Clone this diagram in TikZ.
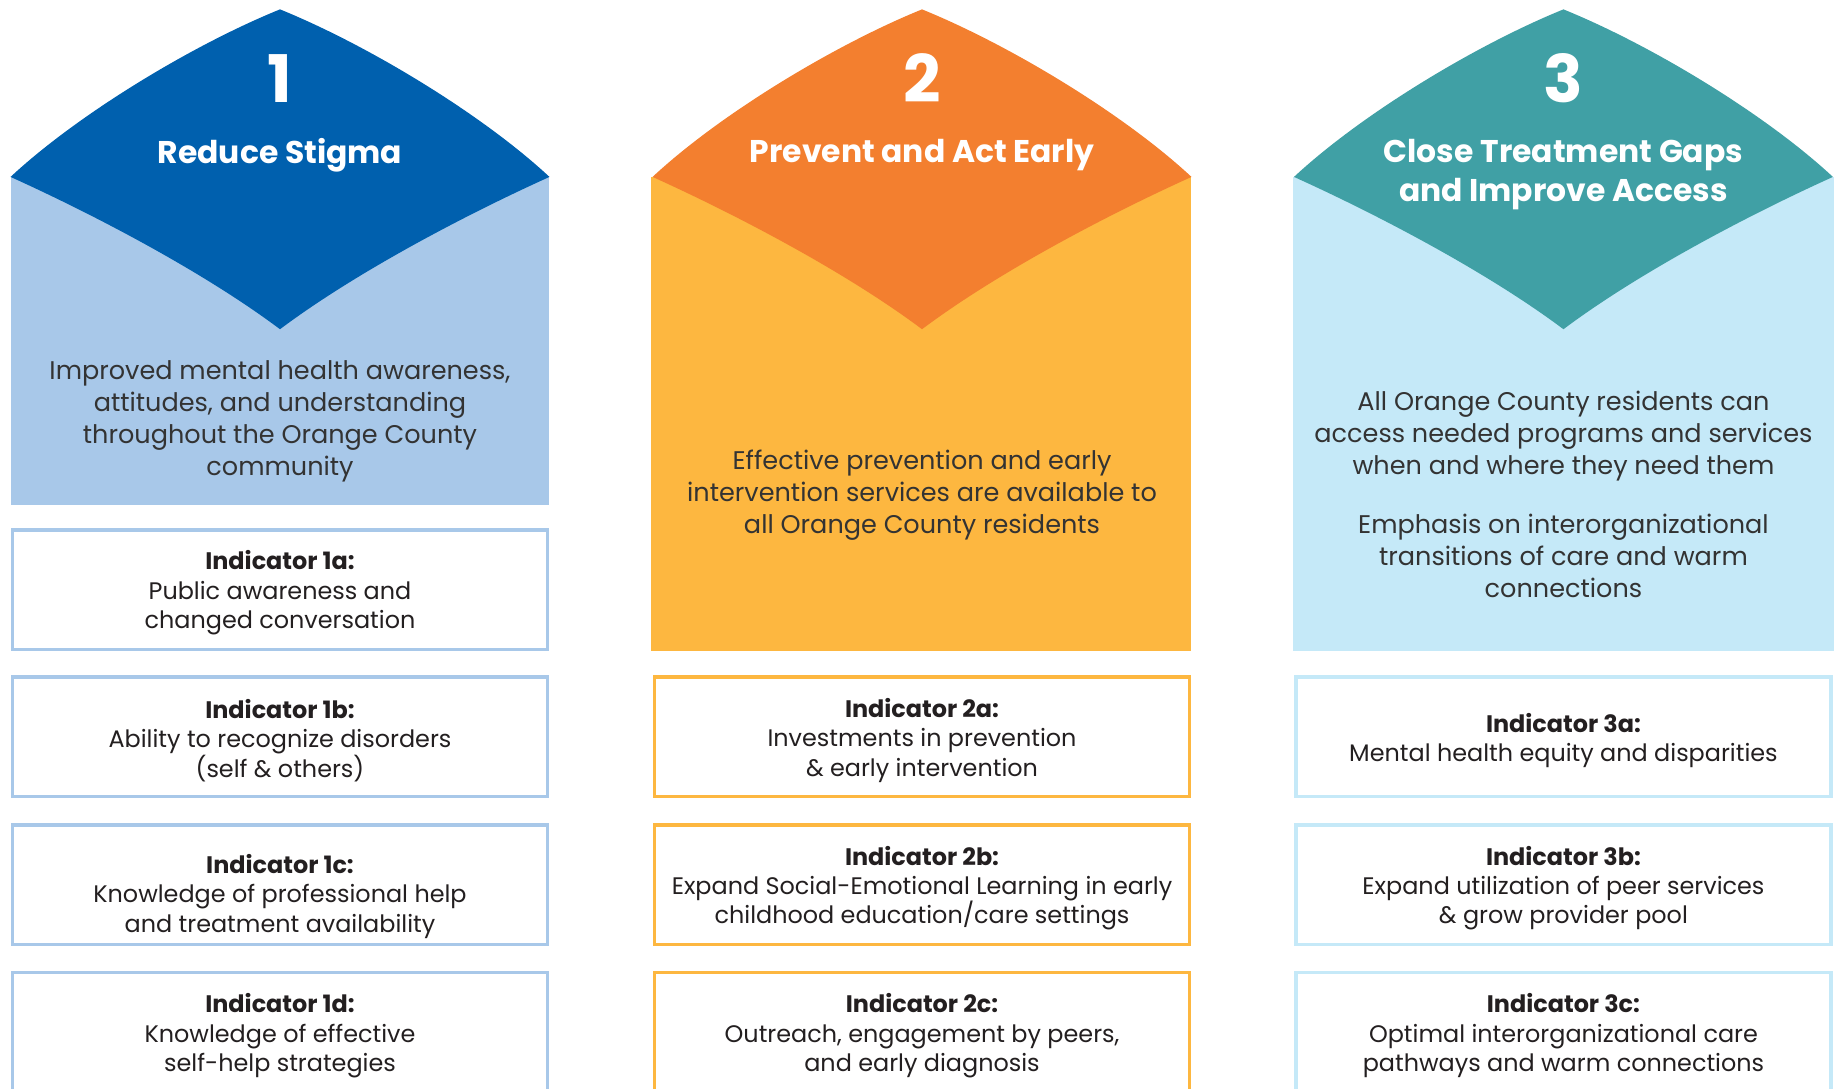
\documentclass[tikz,border=0pt]{standalone}
\usepackage{fontspec}
\setmainfont{Poppins}
\definecolor{darkA}{HTML}{0060AE}
\definecolor{lightA}{HTML}{A8C8E9}
\definecolor{darkB}{HTML}{F37F2F}
\definecolor{lightB}{HTML}{FDB740}
\definecolor{darkC}{HTML}{40A0A5}
\definecolor{lightC}{HTML}{C5E9F8}
\definecolor{txtgray}{HTML}{333333}
\definecolor{txtdark}{HTML}{231F20}
\tikzset{
  numtxt/.style={text=white, font=\fontsize{56}{60}\selectfont\bfseries, inner sep=0pt},
  titletxt/.style={text=white, font=\fontsize{26.8}{33}\selectfont\bfseries, align=center, inner sep=0pt},
  desctxt/.style={text=txtgray, font=\fontsize{21.8}{27.3}\selectfont, align=center, inner sep=0pt},
  indtxt/.style={text=txtdark, font=\fontsize{20.4}{25}\selectfont, align=center, inner sep=0pt},
  ibox/.style={draw=#1, line width=3pt, fill=white, minimum width=457pt, minimum height=102pt, inner sep=0pt},
}
\newcommand{\myflap}[2]{% center x, colour
  \fill[#2] (#1-230,151) .. controls (#1-172,97) and (#1-74,38) .. (#1,8)
    .. controls (#1+74,38) and (#1+172,97) .. (#1+230,151)
    .. controls (#1+157,184) and (#1+64,233) .. (#1,281)
    .. controls (#1-64,233) and (#1-157,184) .. cycle;}
\begin{document}
\begin{tikzpicture}[x=1pt,y=-1pt]
\useasboundingbox (0,0) rectangle (1568,929.5);
% column 1
\fill[lightA] (9,151) rectangle (469,431);
\myflap{239}{darkA}
\node[numtxt] (n1) at (239,67) {1};
\node[titletxt] (t1) at (239,132.5) {Reduce Stigma};
\node[desctxt] (d1) at (239,360) {Improved mental health awareness,\\attitudes, and understanding\\throughout the Orange County\\community};
\node[ibox=lightA] (b1a) at (239,503.5) {};
\node[ibox=lightA] (b1b) at (239,629) {};
\node[ibox=lightA] (b1c) at (239,755) {};
\node[ibox=lightA] (b1d) at (239,881) {};
\node[indtxt] (i1a) at (239,506) {\textbf{Indicator 1a:}\\Public awareness and\\changed conversation};
\node[indtxt] (i1b) at (239,632) {\textbf{Indicator 1b:}\\Ability to recognize disorders\\(self \& others)};
\node[indtxt] (i1c) at (239,765) {\textbf{Indicator 1c:}\\Knowledge of professional help\\and treatment availability};
\node[indtxt] (i1d) at (239,884) {\textbf{Indicator 1d:}\\Knowledge of effective\\self-help strategies};
% column 2
\fill[lightB] (556,151) rectangle (1017,556);
\myflap{787}{darkB}
\node[numtxt] (n2) at (787,67) {2};
\node[titletxt] (t2) at (787,132.5) {Prevent and Act Early};
\node[desctxt] (d2) at (787,422.5) {Effective prevention and early\\intervention services are available to\\all Orange County residents};
\node[ibox=lightB] (b2a) at (787,629) {};
\node[ibox=lightB] (b2b) at (787,755) {};
\node[ibox=lightB] (b2c) at (787,881) {};
\node[indtxt] (i2a) at (787,632) {\textbf{Indicator 2a:}\\Investments in prevention\\\& early intervention};
\node[indtxt] (i2b) at (787,758) {\textbf{Indicator 2b:}\\Expand Social-Emotional Learning in early\\childhood education/care settings};
\node[indtxt] (i2c) at (787,884) {\textbf{Indicator 2c:}\\Outreach, engagement by peers,\\and early diagnosis};
% column 3
\fill[lightC] (1104,151) rectangle (1565,556);
\myflap{1334.5}{darkC}
\node[numtxt] (n3) at (1334.5,67) {3};
\node[titletxt] (t3) at (1334.5,149) {Close Treatment Gaps\\and Improve Access};
\node[desctxt] (d3) at (1334.5,372) {All Orange County residents can\\access needed programs and services\\when and where they need them};
\node[desctxt] (e3) at (1334.5,474.5) {Emphasis on interorganizational\\transitions of care and warm\\connections};
\node[ibox=lightC] (b3a) at (1334.5,629) {};
\node[ibox=lightC] (b3b) at (1334.5,755) {};
\node[ibox=lightC] (b3c) at (1334.5,881) {};
\node[indtxt] (i3a) at (1334.5,632) {\textbf{Indicator 3a:}\\Mental health equity and disparities};
\node[indtxt] (i3b) at (1334.5,758) {\textbf{Indicator 3b:}\\Expand utilization of peer services\\\& grow provider pool};
\node[indtxt] (i3c) at (1334.5,884) {\textbf{Indicator 3c:}\\Optimal interorganizational care\\pathways and warm connections};
\end{tikzpicture}
\end{document}
